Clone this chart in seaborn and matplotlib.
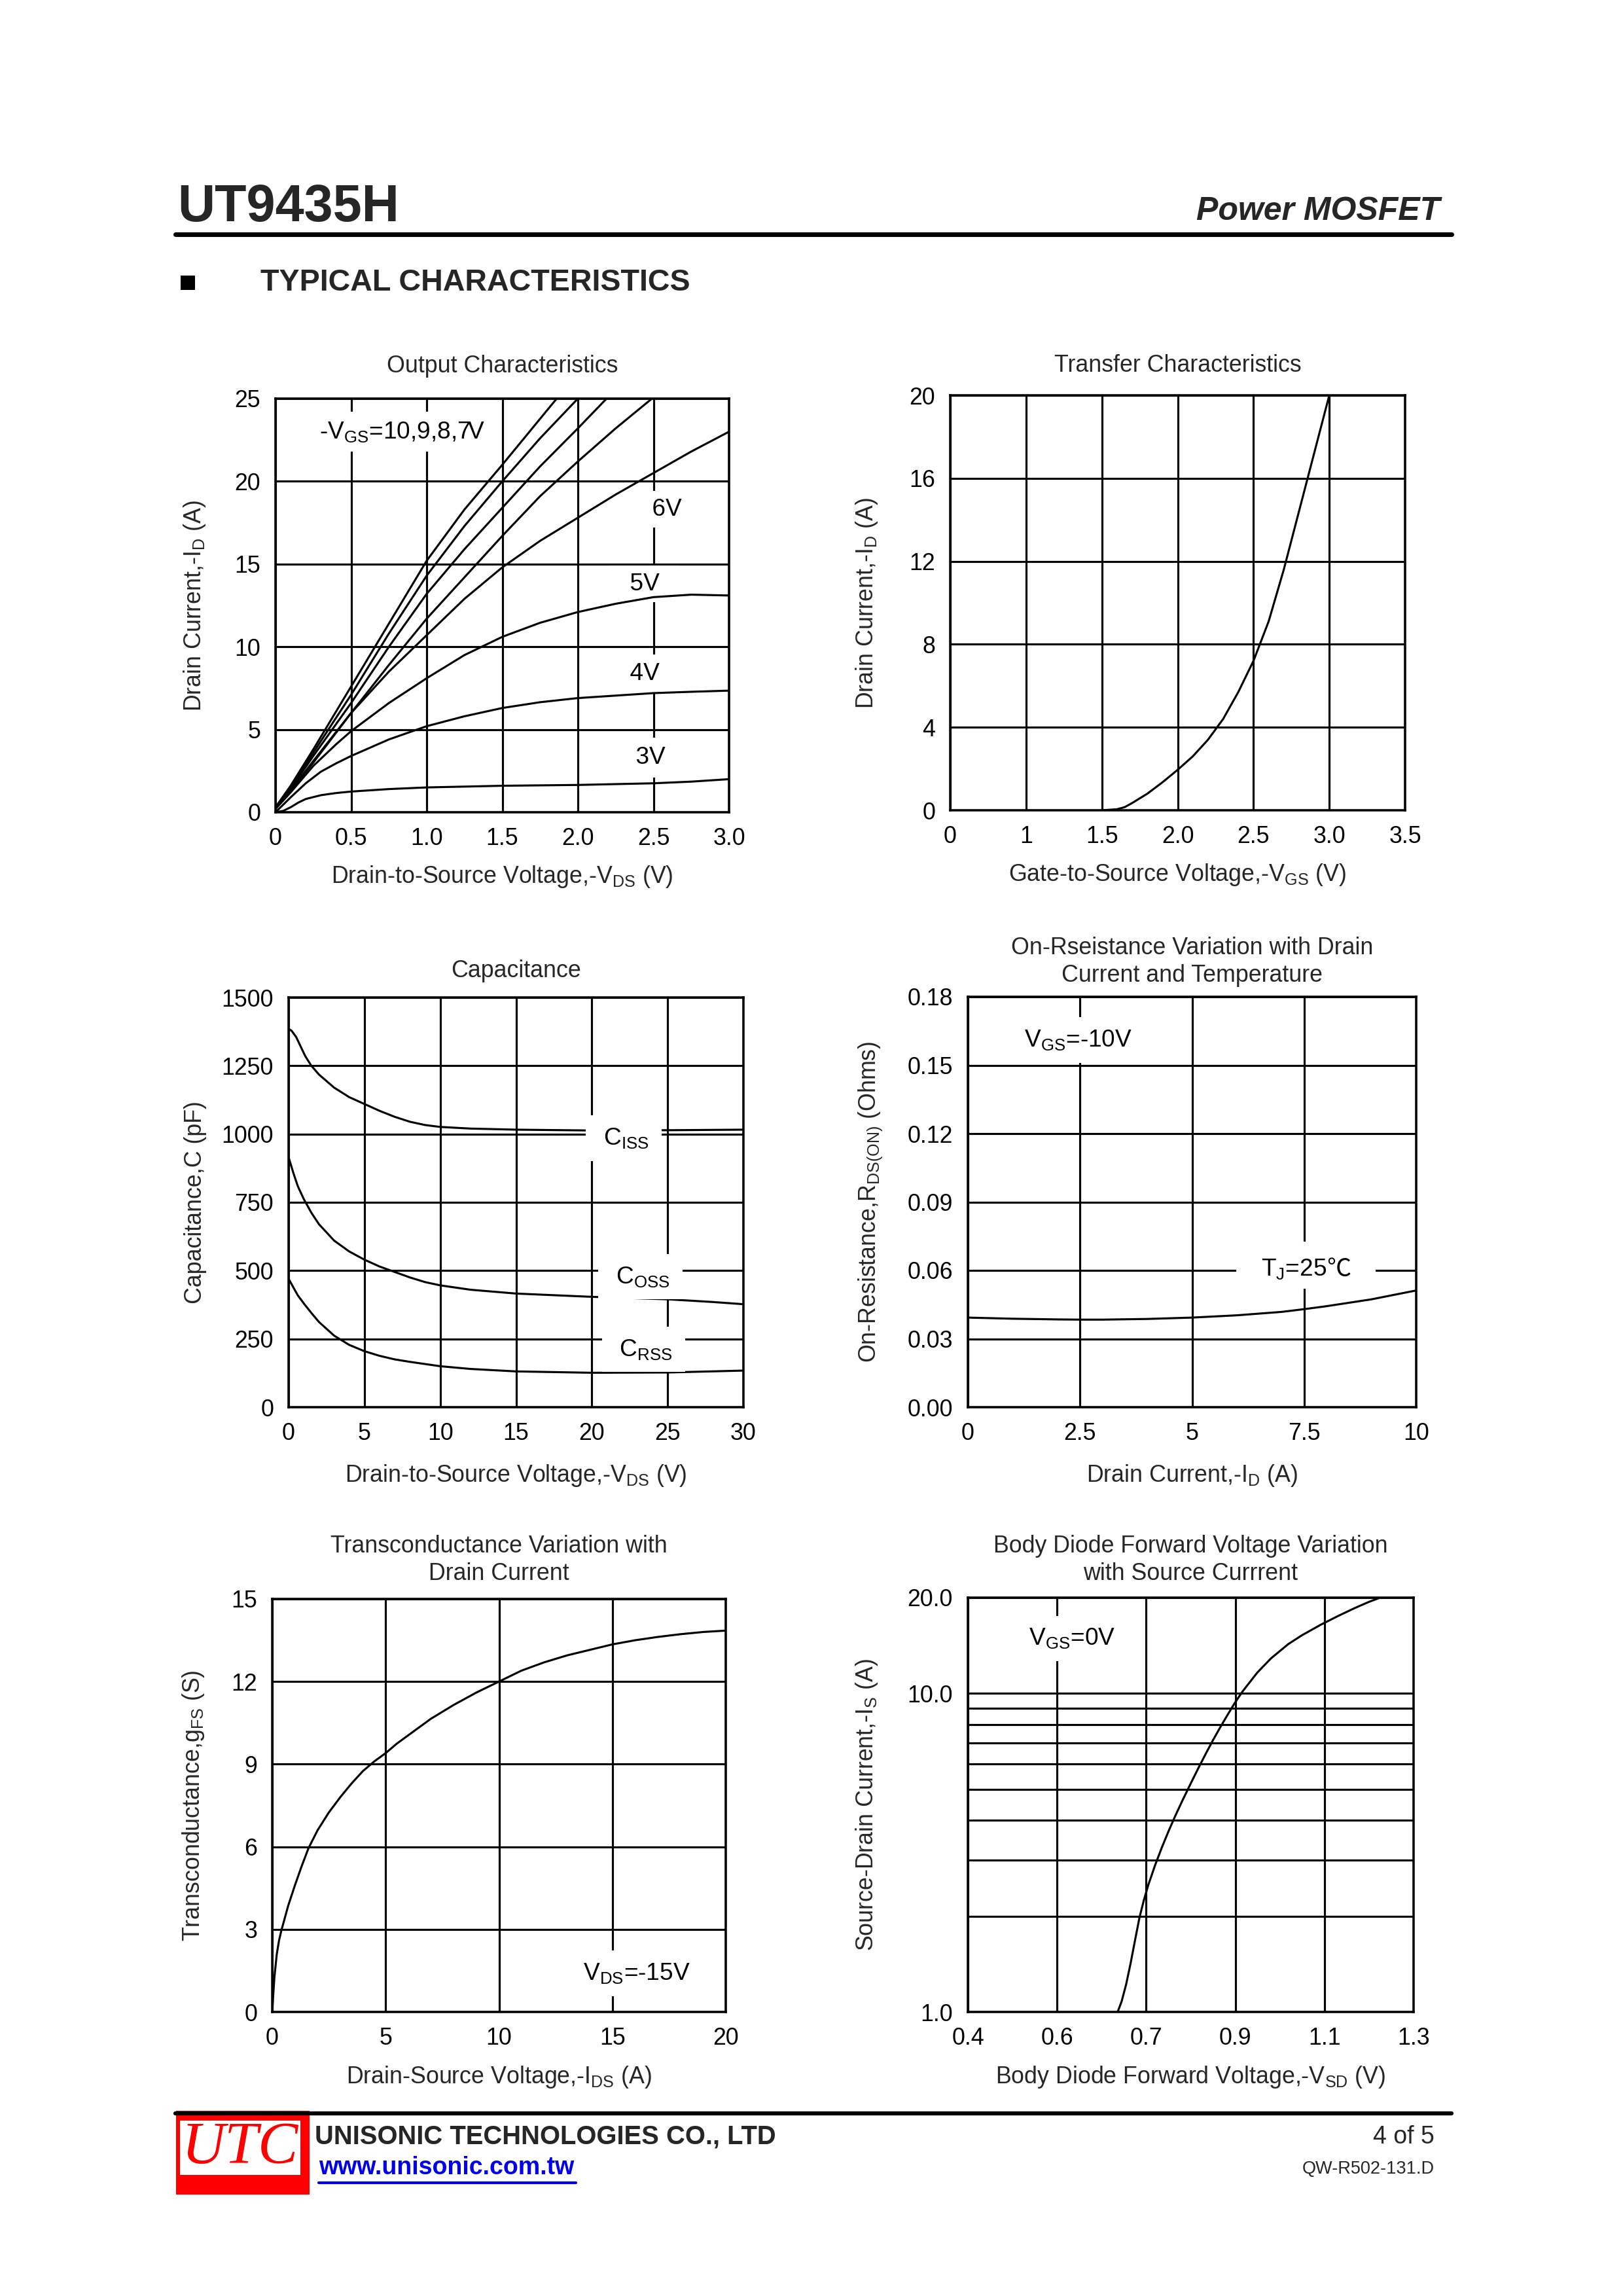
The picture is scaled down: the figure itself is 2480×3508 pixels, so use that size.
import matplotlib
matplotlib.use('Agg')
import matplotlib.pyplot as plt
import seaborn as sns
from matplotlib.lines import Line2D
from matplotlib.patches import Rectangle

# ---------------- data ----------------
# Output characteristics (-VDS in V, -ID in A), one curve per -VGS
vds_10v = [0, 0.1, 0.25, 0.5, 0.75, 1.0, 1.25, 1.5, 1.86]
id_10v = [0.3, 1.6, 3.8, 7.6, 11.4, 15.2, 18.3, 21.0, 25.0]
vds_9v = [0, 0.1, 0.25, 0.5, 0.75, 1.0, 1.25, 1.5, 1.75, 2.0]
id_9v = [0.3, 1.5, 3.6, 7.1, 10.8, 14.3, 17.3, 20.0, 22.6, 25.0]
vds_8v = [0, 0.1, 0.25, 0.5, 0.75, 1.0, 1.25, 1.5, 1.75, 2.0, 2.19]
id_8v = [0.3, 1.4, 3.4, 6.6, 10.0, 13.2, 15.9, 18.4, 20.9, 23.2, 25.0]
vds_7v = [0, 0.1, 0.25, 0.5, 0.75, 1.0, 1.25, 1.5, 1.75, 2.0, 2.25, 2.49]
id_7v = [0.3, 1.3, 3.1, 6.0, 8.9, 11.7, 14.2, 16.7, 19.1, 21.2, 23.2, 25.0]
vds_6v = [0, 0.1, 0.25, 0.5, 0.75, 1.0, 1.25, 1.5, 1.75, 2.0, 2.25, 2.5, 2.75, 3.0]
id_6v = [0.3, 1.3, 3.0, 6.0, 8.5, 10.7, 12.9, 14.8, 16.4, 17.8, 19.2, 20.5, 21.8, 23.0]
vds_5v = [0, 0.1, 0.25, 0.4, 0.5, 0.75, 1.0, 1.25, 1.5, 1.75, 2.0, 2.25, 2.5, 2.75, 3.0]
id_5v = [0.2, 1.2, 2.8, 4.1, 4.9, 6.6, 8.1, 9.5, 10.6, 11.45, 12.1, 12.6, 13.0, 13.15, 13.1]
vds_4v = [0, 0.1, 0.2, 0.3, 0.4, 0.5, 0.75, 1.0, 1.25, 1.5, 1.75, 2.0, 2.25, 2.5, 2.75, 3.0]
id_4v = [0.0, 0.9, 1.75, 2.45, 2.95, 3.4, 4.4, 5.2, 5.8, 6.3, 6.65, 6.9, 7.05, 7.2, 7.28, 7.35]
vds_3v = [0, 0.05, 0.1, 0.15, 0.2, 0.3, 0.4, 0.5, 0.75, 1.0, 1.5, 2.0, 2.5, 2.75, 3.0]
id_3v = [0.0, 0.08, 0.3, 0.58, 0.8, 1.03, 1.16, 1.25, 1.4, 1.5, 1.6, 1.65, 1.75, 1.85, 2.0]
out_xticks = [0, 0.5, 1.0, 1.5, 2.0, 2.5, 3.0]
out_xticklabels = ['0', '0.5', '1.0', '1.5', '2.0', '2.5', '3.0']
out_yticks = [0, 5, 10, 15, 20, 25]

# Transfer characteristics (-VGS in V, -ID in A); x axis is drawn with a broken 0..1 span
tr_vgs = [1.5, 1.6, 1.65, 1.7, 1.8, 1.9, 2.0, 2.1, 2.2, 2.3, 2.4, 2.5, 2.6, 2.7, 2.8, 2.9, 3.0]
tr_id = [0.0, 0.05, 0.15, 0.35, 0.8, 1.35, 1.95, 2.6, 3.4, 4.4, 5.7, 7.2, 9.1, 11.6, 14.4, 17.2, 20.0]
tr_xticks = [0.5, 1.0, 1.5, 2.0, 2.5, 3.0, 3.5]
tr_xticklabels = ['0', '1', '1.5', '2.0', '2.5', '3.0', '3.5']
tr_yticks = [0, 4, 8, 12, 16, 20]

# Capacitance (-VDS in V, C in pF)
ciss_vds = [0, 0.2, 0.5, 0.8, 1.1, 1.5, 2, 3, 4, 5, 6, 7, 8, 9, 10, 12, 15, 20, 25, 30]
ciss = [1385, 1378, 1355, 1320, 1285, 1250, 1218, 1170, 1135, 1110, 1085, 1063, 1045, 1033, 1026,
        1020, 1016, 1013, 1014, 1016]
coss_vds = [0, 0.3, 0.6, 1, 1.5, 2, 3, 4, 5, 6, 7, 8, 9, 10, 12, 15, 20, 25, 28, 30]
coss = [915, 860, 810, 762, 712, 670, 610, 570, 540, 515, 495, 475, 458, 446, 430, 416, 404, 395, 385, 377]
crss_vds = [0, 0.3, 0.6, 1, 1.5, 2, 3, 4, 5, 6, 7, 8, 10, 12, 15, 20, 25, 30]
crss = [470, 440, 410, 380, 345, 312, 262, 228, 205, 188, 175, 166, 150, 140, 131, 126, 127, 134]
cap_xticks = [0, 5, 10, 15, 20, 25, 30]
cap_yticks = [0, 250, 500, 750, 1000, 1250, 1500]

# On-resistance (-ID in A, RDS(on) in ohm)
ron_id = [0, 1, 2, 2.5, 3, 4, 5, 6, 7, 7.5, 8, 9, 10]
ron = [0.0393, 0.0388, 0.0385, 0.0384, 0.0384, 0.0387, 0.0393, 0.0403, 0.0418, 0.0430, 0.0443, 0.0473, 0.0512]
ron_xticks = [0, 2.5, 5, 7.5, 10]
ron_xticklabels = ['0', '2.5', '5', '7.5', '10']
ron_yticks = [0.0, 0.03, 0.06, 0.09, 0.12, 0.15, 0.18]

# Transconductance (-IDS in A, gFS in S)
gfs_id = [0, 0.05, 0.1, 0.2, 0.3, 0.4, 0.5, 0.7, 1.0, 1.3, 1.6, 2.0, 2.5, 3.0, 3.5, 4.0, 4.5, 5.0,
          5.5, 6, 7, 8, 9, 10, 11, 12, 13, 14, 15, 16, 17, 18, 19, 20]
gfs = [0, 0.7, 1.3, 2.1, 2.6, 2.95, 3.25, 3.85, 4.6, 5.3, 5.95, 6.6, 7.25, 7.8, 8.3, 8.75, 9.1, 9.4,
       9.75, 10.05, 10.65, 11.15, 11.6, 12.0, 12.4, 12.7, 12.95, 13.15, 13.35, 13.5, 13.62, 13.72, 13.8, 13.85]
gfs_xticks = [0, 5, 10, 15, 20]
gfs_yticks = [0, 3, 6, 9, 12, 15]

# Body diode (-VSD in V, -IS in A, log axis); the x grid is drawn every 0.2 V
bd_vsd = [0.636, 0.645, 0.655, 0.665, 0.675, 0.685, 0.695, 0.705, 0.72, 0.735, 0.75, 0.765, 0.78,
          0.80, 0.82, 0.835, 0.85, 0.865, 0.88, 0.898, 0.916, 0.949, 0.98, 1.019, 1.05, 1.092,
          1.13, 1.168, 1.20, 1.225]
bd_is = [1.0, 1.08, 1.22, 1.42, 1.68, 1.98, 2.25, 2.51, 2.89, 3.28, 3.69, 4.12, 4.57,
         5.22, 5.94, 6.52, 7.14, 7.78, 8.45, 9.3, 10.14, 11.62, 12.89, 14.3, 15.25, 16.45,
         17.5, 18.55, 19.4, 20.0]
bd_xticks = [0.3, 0.5, 0.7, 0.9, 1.1, 1.3]
bd_xticklabels = ['0.4', '0.6', '0.7', '0.9', '1.1', '1.3']
bd_yticks = [1, 10, 20]
bd_yticklabels = ['1.0', '10.0', '20.0']
bd_minor = [2, 3, 4, 5, 6, 7, 8, 9]

# ---------------- page setup ----------------
W, H = 2480, 3508
sns.set_theme(style='white')
plt.rcParams['font.family'] = ['Liberation Sans', 'DejaVu Sans']
plt.rcParams['mathtext.default'] = 'regular'
plt.rcParams['axes.unicode_minus'] = False

fig = plt.figure(figsize=(W / 300, H / 300), dpi=300)
fig.patch.set_facecolor('white')

LW = 0.75
FS = 8.6


def make_axes(l, r, t, b):
    return fig.add_axes([l / W, 1 - b / H, (r - l) / W, (b - t) / H])


def style_axes(ax, title, title_pad, xlabel, ylabel, xlab_y, ylab_x):
    ax.set_facecolor('white')
    for sp in ax.spines.values():
        sp.set_color('black')
        sp.set_linewidth(0.85)
    ax.set_axisbelow(True)
    ax.grid(True, which='major', color='black', linewidth=LW)
    ax.tick_params(length=0, labelsize=FS, pad=5.5, colors='black')
    ax.set_title(title, fontsize=FS, pad=title_pad, linespacing=1.25)
    ax.set_xlabel(xlabel, fontsize=FS)
    ax.set_ylabel(ylabel, fontsize=FS)
    ax.xaxis.set_label_coords(0.5, xlab_y)
    ax.yaxis.set_label_coords(ylab_x, 0.5)


def note(ax, x, y, s, ha='left', pad=4.0):
    return ax.text(x, y, s, ha=ha, va='center', fontsize=FS + 0.3, color='black', zorder=6,
                   bbox=dict(facecolor='white', edgecolor='none', pad=pad))


def curve(ax, x, y, z=3):
    sns.lineplot(x=x, y=y, ax=ax, color='black', linewidth=LW, sort=False,
                 estimator=None, zorder=z)


# ---------------- Output Characteristics ----------------
ax1 = make_axes(421, 1114, 609, 1241)
for xs, ys in [(vds_10v, id_10v), (vds_9v, id_9v), (vds_8v, id_8v), (vds_7v, id_7v),
               (vds_6v, id_6v), (vds_5v, id_5v), (vds_4v, id_4v), (vds_3v, id_3v)]:
    curve(ax1, xs, ys, z=7)
ax1.set_xlim(0, 3.0)
ax1.set_ylim(0, 25)
ax1.set_xticks(out_xticks, out_xticklabels)
ax1.set_yticks(out_yticks)
style_axes(ax1, 'Output Characteristics', 9.5,
           'Drain-to-Source Voltage,-V$_{DS}$ (V)', 'Drain Current,-I$_{D}$ (A)', -0.125, -0.15)
note(ax1, 0.29, 23.0, '-V$_{GS}$=10,9,8,7V', pad=3)
note(ax1, 2.59, 18.3, '  6V  ', ha='center', pad=2.5)
note(ax1, 2.44, 13.8, '  5V  ', ha='center', pad=2.5)
note(ax1, 2.44, 8.35, '  4V  ', ha='center', pad=3)
note(ax1, 2.48, 3.3, '  3V  ', ha='center', pad=3)

# ---------------- Transfer Characteristics ----------------
ax2 = make_axes(1452, 2147, 604, 1238)
curve(ax2, tr_vgs, tr_id)
ax2.set_xlim(0.5, 3.5)
ax2.set_ylim(0, 20)
ax2.set_xticks(tr_xticks, tr_xticklabels)
ax2.set_yticks(tr_yticks)
style_axes(ax2, 'Transfer Characteristics', 8.6,
           'Gate-to-Source Voltage,-V$_{GS}$ (V)', 'Drain Current,-I$_{D}$ (A)', -0.125, -0.155)

# ---------------- Capacitance ----------------
ax3 = make_axes(441, 1136, 1524, 2150)
curve(ax3, ciss_vds, ciss)
curve(ax3, coss_vds, coss)
curve(ax3, crss_vds, crss)
ax3.set_xlim(0, 30)
ax3.set_ylim(0, 1500)
ax3.set_xticks(cap_xticks)
ax3.set_yticks(cap_yticks)
style_axes(ax3, 'Capacitance', 7.4,
           'Drain-to-Source Voltage,-V$_{DS}$ (V)', 'Capacitance,C (pF)', -0.136, -0.18)
note(ax3, 22.1, 985, ' C$_{ISS}$ ', ha='center', pad=4)
note(ax3, 23.2, 478, ' C$_{OSS}$ ', ha='center', pad=4)
note(ax3, 23.4, 212, ' C$_{RSS}$ ', ha='center', pad=4)

# ---------------- On-Resistance ----------------
ax4 = make_axes(1479, 2164, 1523, 2150)
curve(ax4, ron_id, ron, z=7)
ax4.set_xlim(0, 10)
ax4.set_ylim(0, 0.18)
ax4.set_xticks(ron_xticks, ron_xticklabels)
ax4.set_yticks(ron_yticks, [f'{v:.2f}' for v in ron_yticks])
style_axes(ax4, 'On-Rseistance Variation with Drain\nCurrent and Temperature', 5.5,
           'Drain Current,-I$_{D}$ (A)', 'On-Resistance,R$_{DS(ON)}$ (Ohms)', -0.136, -0.187)
note(ax4, 1.25, 0.161, 'V$_{GS}$=-10V', pad=4)
# white gap in the grid behind the T_J label
ax4.add_patch(Rectangle((5.99, 0.052), 3.1, 0.0205, facecolor='white', edgecolor='none', zorder=6))
tj = ax4.text(6.54, 0.0605, 'T$_{J}$=25', ha='left', va='center', fontsize=FS + 0.3,
              color='black', zorder=8)
ax4.annotate('\u2103', xy=(1, 0.5), xycoords=tj, ha='left', va='center', fontsize=FS + 0.3,
             family=['Noto Sans CJK SC', 'DejaVu Sans'], color='black', zorder=8)

# ---------------- Transconductance ----------------
ax5 = make_axes(416, 1109, 2443, 3074)
curve(ax5, gfs_id, gfs)
ax5.set_xlim(0, 20)
ax5.set_ylim(0, 15)
ax5.set_xticks(gfs_xticks)
ax5.set_yticks(gfs_yticks)
style_axes(ax5, 'Transconductance Variation with\nDrain Current', 7.0,
           'Drain-Source Voltage,-I$_{DS}$ (A)', 'Transconductance,g$_{FS}$ (S)', -0.127, -0.146)
note(ax5, 13.7, 1.4, 'V$_{DS}$=-15V', pad=4)

# ---------------- Body Diode ----------------
ax6 = make_axes(1479, 2160, 2441, 3074)
curve(ax6, bd_vsd, bd_is)
ax6.set_yscale('log')
ax6.set_xlim(0.3, 1.3)
ax6.set_ylim(1, 20)
ax6.set_xticks(bd_xticks, bd_xticklabels)
ax6.set_yticks(bd_yticks, bd_yticklabels)
ax6.set_yticks(bd_minor, [''] * len(bd_minor), minor=True)
style_axes(ax6, 'Body Diode Forward Voltage Variation\nwith Source Currrent', 6.5,
           'Body Diode Forward Voltage,-V$_{SD}$ (V)', 'Source-Drain Current,-I$_{S}$ (A)', -0.127, -0.198)
ax6.grid(True, which='minor', axis='y', color='black', linewidth=LW)
ax6.tick_params(which='minor', length=0)
note(ax6, 0.436, 14.9, 'V$_{GS}$=0V', pad=4)

# ---------------- header ----------------
fig.text(271 / W, 1 - 338 / H, 'UT9435H', fontsize=19, fontweight='bold',
         ha='left', va='baseline')
fig.text(2200 / W, 1 - 336 / H, 'Power MOSFET', fontsize=12, fontweight='bold',
         fontstyle='italic', ha='right', va='baseline')
fig.add_artist(Line2D([268 / W, 2218 / W], [1 - 358 / H, 1 - 358 / H], color='black', linewidth=1.7))
fig.add_artist(Rectangle((276 / W, 1 - 443 / H), 22 / W, 22 / H, facecolor='black', edgecolor='none'))
fig.text(398 / W, 1 - 432 / H, 'TYPICAL CHARACTERISTICS', fontsize=11.2, fontweight='bold',
         ha='left', va='center')

# ---------------- footer ----------------
fig.add_artist(Line2D([268 / W, 2218 / W], [1 - 3229 / H, 1 - 3229 / H], color='black', linewidth=1.5))
fig.add_artist(Rectangle((269 / W, 1 - 3353 / H), 204 / W, 128 / H, facecolor='#ff0000', edgecolor='none'))
fig.add_artist(Rectangle((275 / W, 1 - 3323 / H), 184 / W, 83 / H, facecolor='white', edgecolor='none'))
fig.text(367 / W, 1 - 3283 / H, 'UTC', fontsize=22, color='#ff0000', fontstyle='italic',
         family=['Liberation Serif', 'DejaVu Serif'], ha='center', va='center')
fig.text(481 / W, 1 - 3264 / H, 'UNISONIC TECHNOLOGIES CO., LTD', fontsize=9.6, fontweight='bold',
         ha='left', va='center')
fig.text(487 / W, 1 - 3312 / H, 'www.unisonic.com.tw', fontsize=9, fontweight='bold',
         color='#0000ee', ha='left', va='center')
fig.add_artist(Line2D([487 / W, 880 / W], [1 - 3335 / H, 1 - 3335 / H], color='#0000ee', linewidth=1.0))
fig.text(2192 / W, 1 - 3265 / H, '4 of 5', fontsize=9, ha='right', va='center')
fig.text(2192 / W, 1 - 3314 / H, 'QW-R502-131.D', fontsize=6.5, ha='right', va='center')

fig.savefig('out.png', dpi=300, facecolor='white')
plt.close(fig)
